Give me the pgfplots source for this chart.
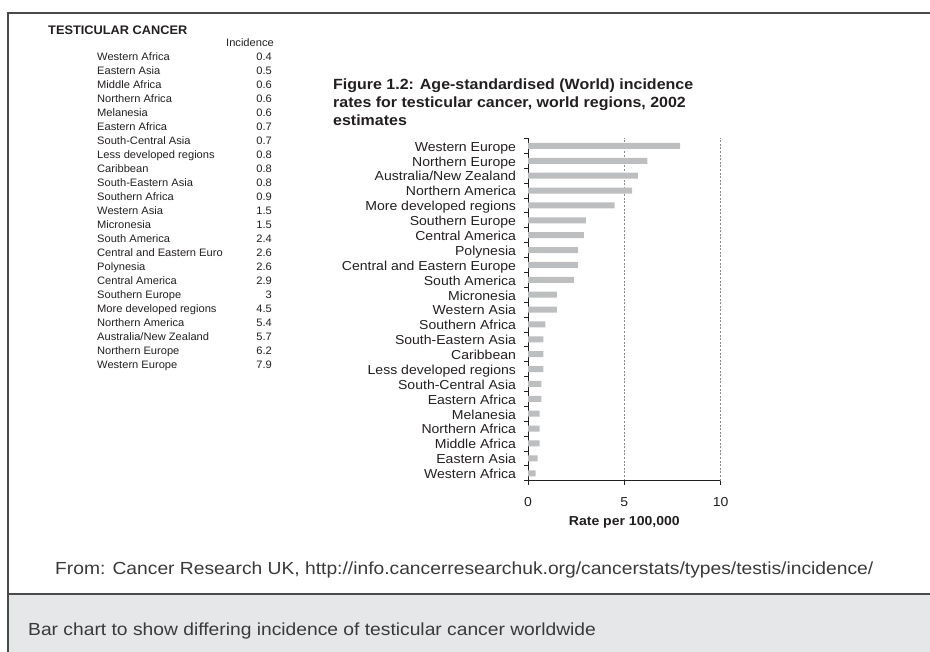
\documentclass[border=0pt]{standalone}
\usepackage{fontspec}
\usepackage{pgfplots}
\pgfplotsset{compat=1.18}
\setmainfont{Liberation Sans}
\newfontfamily\cf[FakeStretch=1.08]{Liberation Sans}
\newfontfamily\tabfont[FakeStretch=1.03]{Liberation Sans}
\newfontfamily\srcfont[FakeStretch=1.1]{Liberation Sans}
\definecolor{textcol}{HTML}{231F20}
\definecolor{barcol}{HTML}{BCBEC0}
\definecolor{axiscol}{HTML}{231F20}
\definecolor{gridcol}{HTML}{8A8A8A}
\definecolor{boxgray}{HTML}{E6E7E8}
\definecolor{bordercol}{HTML}{4A4A4A}
\definecolor{srccol}{HTML}{3A3A3A}
\newcommand{\trow}[3]{%
  \node[anchor=base west, inner sep=0pt] at (97,{591.7-14.03*#1}) {#2};
  \node[anchor=base east, inner sep=0pt] at (272,{591.7-14.03*#1}) {#3};}
\begin{document}
\begin{tikzpicture}[x=1pt,y=1pt]
\path[use as bounding box] (0,0) rectangle (930,652);
% bottom caption box
\fill[boxgray] (8,0) rectangle (930,58);
\draw[bordercol, line width=1.5pt] (8,58) -- (930,58);
\draw[bordercol, line width=2pt] (8,0) -- (8,639) -- (930,639);
% table
\node[anchor=base west, inner sep=0pt, text=textcol, font=\tabfont\bfseries\fontsize{12.4}{14}\selectfont] at (48,617.5) {TESTICULAR CANCER};
\begin{scope}[text=textcol, font=\tabfont\fontsize{10.8}{13}\selectfont]
\node[anchor=base east, inner sep=0pt] at (274,605.3) {Incidence};
\trow{0}{Western Africa}{0.4}
\trow{1}{Eastern Asia}{0.5}
\trow{2}{Middle Africa}{0.6}
\trow{3}{Northern Africa}{0.6}
\trow{4}{Melanesia}{0.6}
\trow{5}{Eastern Africa}{0.7}
\trow{6}{South-Central Asia}{0.7}
\trow{7}{Less developed regions}{0.8}
\trow{8}{Caribbean}{0.8}
\trow{9}{South-Eastern Asia}{0.8}
\trow{10}{Southern Africa}{0.9}
\trow{11}{Western Asia}{1.5}
\trow{12}{Micronesia}{1.5}
\trow{13}{South America}{2.4}
\trow{14}{Central and Eastern Euro}{2.6}
\trow{15}{Polynesia}{2.6}
\trow{16}{Central America}{2.9}
\trow{17}{Southern Europe}{3}
\trow{18}{More developed regions}{4.5}
\trow{19}{Northern America}{5.4}
\trow{20}{Australia/New Zealand}{5.7}
\trow{21}{Northern Europe}{6.2}
\trow{22}{Western Europe}{7.9}
\end{scope}
% title
\begin{scope}[text=textcol, font=\cf\bfseries\fontsize{14.8}{18}\selectfont]
\node[anchor=base west, inner sep=0pt] at (333,562.7) {Figure 1.2: Age-standardised (World) incidence};
\node[anchor=base west, inner sep=0pt] at (333,544.4) {rates for testicular cancer, world regions, 2002};
\node[anchor=base west, inner sep=0pt] at (333,526.1) {estimates};
\end{scope}
% source and caption
\node[anchor=base west, inner sep=0pt, text=srccol, font=\srcfont\fontsize{17.5}{20}\selectfont] at (55,77) {From: Cancer Research UK, http://info.cancerresearchuk.org/cancerstats/types/testis/incidence/};
\node[anchor=base west, inner sep=0pt, text=srccol, font=\srcfont\fontsize{17.5}{20}\selectfont] at (28,16) {Bar chart to show differing incidence of testicular cancer worldwide};
\begin{axis}[
  at={(528pt,171.3pt)}, anchor=south west,
  scale only axis, width=192.7pt, height=342.2pt,
  xmin=0, xmax=10, ymin=-0.5, ymax=22.5,
  axis lines*=left,
  axis line style={draw=axiscol, line width=0.9pt},
  xbar, bar width=6pt,
  /pgf/number format/assume math mode=true,
  tick align=outside,
  major tick length=4pt, minor tick length=4pt,
  tick style={draw=axiscol, line width=0.8pt},
  xtick={0,5}, extra x ticks={10},
  extra x tick style={grid style={draw=gray!22, dash pattern=on 1pt off 1.5pt, line width=0.6pt}},
  xmajorgrids=true,
  major grid style={draw=gridcol, dash pattern=on 2pt off 1.6pt, line width=0.6pt},
  scaled x ticks=false,
  ytick={0,...,22},
  minor ytick={-0.5,0.5,...,22.5},
  every major y tick/.style={draw=none},
  yticklabels={Western Africa,Eastern Asia,Middle Africa,Northern Africa,Melanesia,Eastern Africa,South-Central Asia,Less developed regions,Caribbean,South-Eastern Asia,Southern Africa,Western Asia,Micronesia,South America,Central and Eastern Europe,Polynesia,Central America,Southern Europe,More developed regions,Northern America,Australia/New Zealand,Northern Europe,Western Europe},
  tick label style={text=textcol, font=\cf\fontsize{13}{15}\selectfont},
  yticklabel style={anchor=base east, xshift=-4.5pt, yshift=-5.3pt},
  xticklabel style={yshift=-9.2pt},
  xlabel={Rate per 100,000},
  xlabel style={at={(axis description cs:0.5,0)}, anchor=base, yshift=-45pt, text=textcol, font=\cf\bfseries\fontsize{13}{15}\selectfont},
]
\addplot[fill=barcol, draw=none] coordinates {
(0.4,0) (0.5,1) (0.6,2) (0.6,3) (0.6,4) (0.7,5) (0.7,6) (0.8,7) (0.8,8) (0.8,9) (0.9,10)
(1.5,11) (1.5,12) (2.4,13) (2.6,14) (2.6,15) (2.9,16) (3.0,17) (4.5,18) (5.4,19) (5.7,20) (6.2,21) (7.9,22)};
\end{axis}
\end{tikzpicture}
\end{document}
